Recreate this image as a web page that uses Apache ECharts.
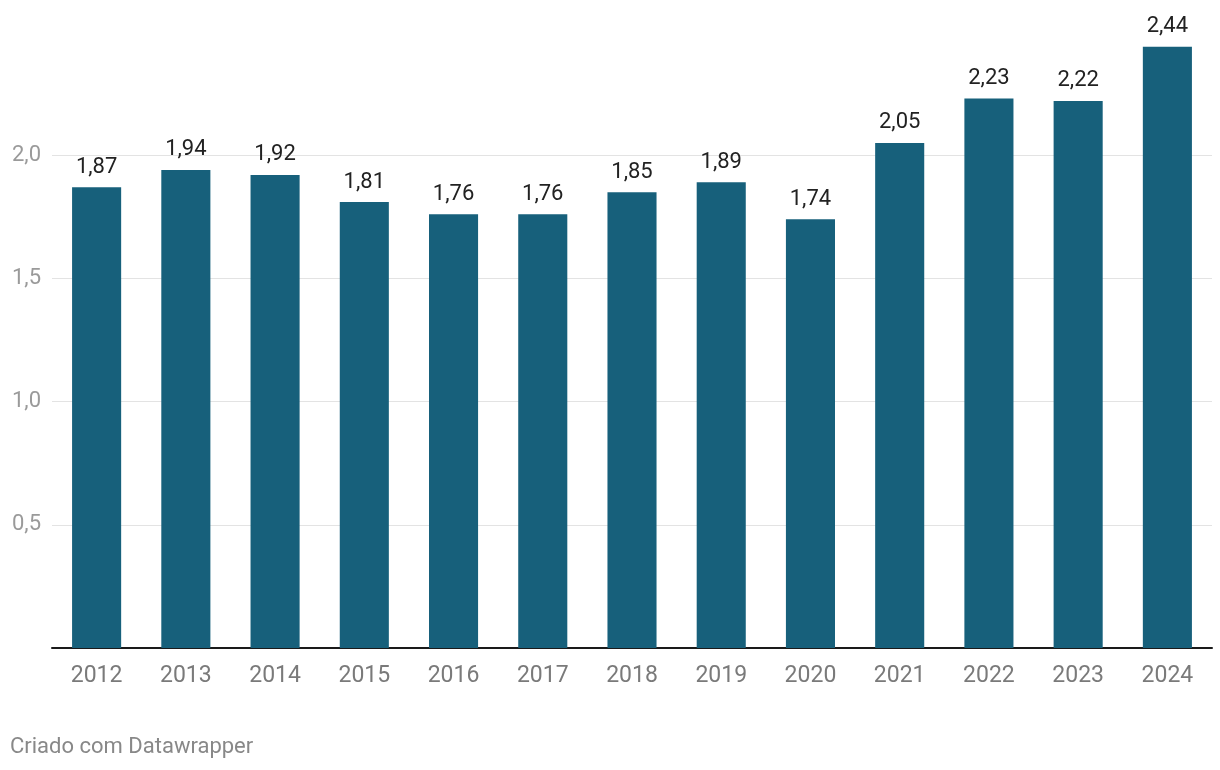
<!DOCTYPE html>
<html><head><meta charset="utf-8">
<script src="https://cdn.jsdelivr.net/npm/echarts@6/dist/echarts.min.js"></script>
<style>html,body{margin:0;padding:0;background:#fff;}#c{width:1220px;height:770px;}</style>
</head><body><div id="c"></div>
<script>
const categories = ['2012','2013','2014','2015','2016','2017','2018','2019','2020','2021','2022','2023','2024'];
const values = [1.87,1.94,1.92,1.81,1.76,1.76,1.85,1.89,1.74,2.05,2.23,2.22,2.44];
const yTicks = [0.5,1.0,1.5,2.0];
const footer = 'Criado com Datawrapper';

const fmt = v => v.toFixed(2).replace('.', ',');
const chart = echarts.init(document.getElementById('c'), null, {renderer:'canvas'});
chart.setOption({
  animation:false,
  textStyle:{fontFamily:'Roboto'},
  graphic:[{type:'text', left:10, top:736, style:{text:footer, fill:'#888', font:'22px Roboto'}}],
  grid:{left:52, right:8, top:32, bottom:122, containLabel:false},
  xAxis:{type:'category', data:categories,
    axisLine:{lineStyle:{color:'#1a1a1a', width:2}},
    axisTick:{show:false},
    axisLabel:{color:'#7a7a7a', fontSize:23, margin:17, fontFamily:'Roboto'}},
  yAxis:{type:'value', min:0, max:2.5, interval:0.5,
    axisLine:{show:false}, axisTick:{show:false},
    axisLabel:{color:'#9a9a9a', fontSize:22, margin:11, fontFamily:'Roboto',
      formatter:v => yTicks.some(t => Math.abs(t - v) < 1e-9) ? v.toFixed(1).replace('.', ',') : ''},
    splitLine:{lineStyle:{color:['rgba(0,0,0,0)','#e3e3e3','#e3e3e3','#e3e3e3','#e3e3e3','rgba(0,0,0,0)'], width:1}}},
  series:[{type:'bar', data:values, barCategoryGap:'45%',
    itemStyle:{color:'#17607b'},
    label:{show:true, position:'top', distance:9, color:'#222', fontSize:22, fontFamily:'Roboto',
      formatter:p => fmt(p.value)}}]
});
</script></body></html>
